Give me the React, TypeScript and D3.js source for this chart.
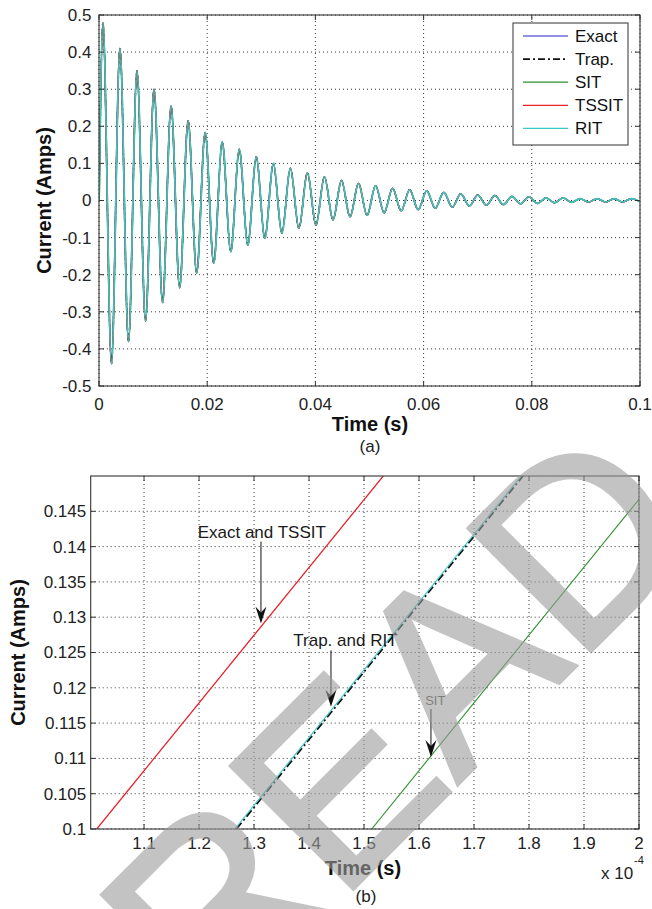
import React from "react";
import * as d3 from "d3";

const FONT = "'Liberation Sans', Arial, Helvetica, sans-serif";

// ---------- (a) overview: damped current, extrema ----------
// time in ms, current in A
const startPoint: [number, number] = [0, 0];
const peakTimesMs = [
  0.7, 3.85, 7.0, 10.15, 13.3, 16.45, 19.6, 22.75, 25.9, 29.05, 32.2, 35.35, 38.5, 41.65, 44.8, 47.95,
  51.1, 54.25, 57.4, 60.55, 63.7, 66.85, 70.0, 73.15, 76.3, 79.45, 82.6, 85.75, 88.9, 92.05, 95.2, 98.35,
];
const peakValues = [
  0.48, 0.41, 0.35, 0.3, 0.255, 0.215, 0.183, 0.158, 0.138, 0.118, 0.1, 0.087, 0.075, 0.064, 0.054, 0.046,
  0.04, 0.033, 0.029, 0.026, 0.022, 0.018, 0.015, 0.0135, 0.011, 0.01, 0.007, 0.007, 0.005, 0.005, 0.005, 0.005,
];
const troughTimesMs = [
  2.28, 5.43, 8.58, 11.73, 14.88, 18.03, 21.18, 24.33, 27.48, 30.63, 33.78, 36.93, 40.08, 43.23, 46.38, 49.53,
  52.68, 55.83, 58.98, 62.13, 65.28, 68.43, 71.58, 74.73, 77.88, 81.03, 84.18, 87.33, 90.48, 93.63, 96.78, 99.93,
];
const troughValues = [
  -0.44, -0.38, -0.325, -0.275, -0.235, -0.195, -0.169, -0.138, -0.12, -0.102, -0.088, -0.075, -0.066, -0.052,
  -0.044, -0.04, -0.033, -0.028, -0.025, -0.021, -0.018, -0.015, -0.013, -0.011, -0.009, -0.008, -0.006, -0.005,
  -0.004, -0.004, -0.004, -0.003,
];

const methods = ["Exact", "Trap.", "SIT", "TSSIT", "RIT"];
const methodColors = ["#6f6fdc", "#111111", "#2f8f2f", "#ee2222", "#3cc6c6"];
const methodDash = ["", "7,3,2,3", "", "", ""];
// lag of each method behind the exact solution (ms), from panel (b)
const methodLagMs = [0, 0.025, 0.05, 0, 0.025];

const xTicksTopMs = [0, 20, 40, 60, 80, 100];
const xTickLabelsTop = ["0", "0.02", "0.04", "0.06", "0.08", "0.1"];
const yTicksTop = [-0.5, -0.4, -0.3, -0.2, -0.1, 0, 0.1, 0.2, 0.3, 0.4, 0.5];
const yTickLabelsTop = ["-0.5", "-0.4", "-0.3", "-0.2", "-0.1", "0", "0.1", "0.2", "0.3", "0.4", "0.5"];

// ---------- (b) zoom: time in 1e-4 s, current in A ----------
const exactZoom: [number, number][] = [[1.014, 0.1], [1.535, 0.15]];
const trapZoom: [number, number][] = [[1.268, 0.1], [1.789, 0.15]];
const sitZoom: [number, number][] = [[1.514, 0.1], [2.0, 0.1467]];
const tssitZoom: [number, number][] = [[1.014, 0.1], [1.535, 0.15]];
const ritZoom: [number, number][] = [[1.265, 0.1], [1.786, 0.15]];
const zoomSeries = [exactZoom, trapZoom, sitZoom, tssitZoom, ritZoom];

const xTicksBottom = [1.1, 1.2, 1.3, 1.4, 1.5, 1.6, 1.7, 1.8, 1.9, 2.0];
const xTickLabelsBottom = ["1.1", "1.2", "1.3", "1.4", "1.5", "1.6", "1.7", "1.8", "1.9", "2"];
const yTicksBottom = [0.1, 0.105, 0.11, 0.115, 0.12, 0.125, 0.13, 0.135, 0.14, 0.145];
const yTickLabelsBottom = ["0.1", "0.105", "0.11", "0.115", "0.12", "0.125", "0.13", "0.135", "0.14", "0.145"];

const annotationLabels = ["Exact and TSSIT", "Trap. and RIT", "SIT"];
// label anchor (x,y), arrow tail y, arrow tip (x,y) in data units
const annotationLabelPos: [number, number][] = [[1.1975, 0.1421], [1.3714, 0.1268], [1.6295, 0.1182]];
const annotationArrowX = [1.3126, 1.4399, 1.6217];
const annotationTailY = [0.1407, 0.1253, 0.117];
const annotationTipY = [0.1291, 0.1173, 0.1102];

const GRID = "#3a3a3a";
const AXIS = "#333";

function Axes(props: {
  x: d3.ScaleLinear<number, number>;
  y: d3.ScaleLinear<number, number>;
  xTicks: number[];
  xLabels: string[];
  yTicks: number[];
  yLabels: string[];
  xLabelY: number;
  yLabelGap: number;
}) {
  const { x, y, xTicks, xLabels, yTicks, yLabels, xLabelY, yLabelGap } = props;
  const [x0, x1] = x.range();
  const [y0, y1] = y.range();
  const tl = 5;
  return (
    <g>
      <rect x={x0} y={y1} width={x1 - x0} height={y0 - y1} fill="none" stroke={AXIS} strokeWidth={1.1} />
      {xTicks.map((t, i) => (
        <g key={"xt" + i}>
          <line x1={x(t)} x2={x(t)} y1={y0} y2={y0 - tl} stroke={AXIS} strokeWidth={1} />
          <line x1={x(t)} x2={x(t)} y1={y1} y2={y1 + tl} stroke={AXIS} strokeWidth={1} />
          <text x={x(t)} y={xLabelY} textAnchor="middle" dy="0.35em" fontSize={17} fontFamily={FONT} fill="#222">
            {xLabels[i]}
          </text>
        </g>
      ))}
      {yTicks.map((t, i) => (
        <g key={"yt" + i}>
          <line x1={x0} x2={x0 + tl} y1={y(t)} y2={y(t)} stroke={AXIS} strokeWidth={1} />
          <line x1={x1} x2={x1 - tl} y1={y(t)} y2={y(t)} stroke={AXIS} strokeWidth={1} />
          <text x={x0 - yLabelGap} y={y(t)} textAnchor="end" dy="0.35em" fontSize={17} fontFamily={FONT} fill="#222">
            {yLabels[i]}
          </text>
        </g>
      ))}
    </g>
  );
}

function Grid(props: { x: d3.ScaleLinear<number, number>; y: d3.ScaleLinear<number, number>; xTicks: number[]; yTicks: number[] }) {
  const { x, y, xTicks, yTicks } = props;
  const [x0, x1] = x.range();
  const [y0, y1] = y.range();
  return (
    <g>
      {xTicks.map((t, i) => (
        <line key={"gx" + i} x1={x(t)} x2={x(t)} y1={y0} y2={y1} stroke={GRID} strokeWidth={1} strokeDasharray="1,3" />
      ))}
      {yTicks.map((t, i) => (
        <line key={"gy" + i} x1={x0} x2={x1} y1={y(t)} y2={y(t)} stroke={GRID} strokeWidth={1} strokeDasharray="1,3" />
      ))}
    </g>
  );
}

export default function App() {
  // ---- top panel ----
  const xT = d3.scaleLinear().domain([0, 100]).range([99, 640]);
  const yT = d3.scaleLinear().domain([-0.5, 0.5]).range([386, 15]);

  const extrema: [number, number][] = [startPoint];
  peakTimesMs.forEach((t, i) => {
    extrema.push([t, peakValues[i]]);
    extrema.push([troughTimesMs[i], troughValues[i]]);
  });

  const topLines = methods.map((m, k) => {
    const gen = d3
      .line<[number, number]>()
      .x((d) => xT(d[0] + methodLagMs[k]))
      .y((d) => yT(d[1]))
      .curve(d3.curveMonotoneX);
    return gen(extrema) || "";
  });
  const topWidths = [1.4, 1.4, 1.5, 1.4, 1.6];

  // ---- bottom panel ----
  const xB = d3.scaleLinear().domain([1.003, 2.0]).range([90.7, 639]);
  const yB = d3.scaleLinear().domain([0.1, 0.15]).range([829, 476]);
  const zoomGen = d3
    .line<[number, number]>()
    .x((d) => xB(d[0]))
    .y((d) => yB(d[1]));
  const bottomWidths = [0.7, 1.8, 1.1, 1.2, 1.1];

  const legendX = 513;
  const legendY = 23;

  const arrowHead = (x: number, y: number) =>
    `M${x},${y} L${x - 5.5},${y - 17} L${x},${y - 11} L${x + 5.5},${y - 17} Z`;

  return (
    <svg
      width={652}
      height={909}
      style={{ position: "absolute", left: 0, top: 0, display: "block", background: "#fff" }}
      fontFamily={FONT}
    >
      <defs>
        <clipPath id="clipTop">
          <rect x={99} y={15} width={541} height={371} />
        </clipPath>
        <clipPath id="clipBottom">
          <rect x={90.7} y={476} width={548.3} height={353} />
        </clipPath>
        <clipPath id="clipPage">
          <rect x={0} y={0} width={652} height={909} />
        </clipPath>
      </defs>
      <rect x={0} y={0} width={652} height={909} fill="#fff" />

      {/* ===== Panel (a) ===== */}
      <Grid x={xT} y={yT} xTicks={xTicksTopMs} yTicks={yTicksTop} />
      <g clipPath="url(#clipTop)">
        {topLines.map((p, k) => (
          <path
            key={"tl" + k}
            d={p}
            fill="none"
            stroke={methodColors[k]}
            strokeWidth={topWidths[k]}
            strokeDasharray={methodDash[k] || undefined}
          />
        ))}
      </g>
      <Axes
        x={xT}
        y={yT}
        xTicks={xTicksTopMs}
        xLabels={xTickLabelsTop}
        yTicks={yTicksTop}
        yLabels={yTickLabelsTop}
        xLabelY={404}
        yLabelGap={7.5}
      />
      <text x={370} y={424} dy="0.35em" textAnchor="middle" fontSize={20} fontWeight="bold" fill="#111">
        Time (s)
      </text>
      <text x={370} y={446} dy="0.35em" textAnchor="middle" fontSize={17} fill="#222">
        (a)
      </text>
      <text
        transform={`translate(44,200.5) rotate(-90)`}
        dy="0.35em"
        textAnchor="middle"
        fontSize={20}
        fontWeight="bold"
        fill="#111"
      >
        Current (Amps)
      </text>

      {/* legend */}
      <rect x={legendX} y={legendY} width={115} height={122} fill="#fff" stroke={AXIS} strokeWidth={1} />
      {methods.map((m, k) => {
        const yy = 36 + k * 23.1;
        return (
          <g key={"lg" + k}>
            <line
              x1={523}
              x2={568}
              y1={yy}
              y2={yy}
              stroke={methodColors[k]}
              strokeWidth={k === 1 ? 1.6 : 1.3}
              strokeDasharray={methodDash[k] || undefined}
            />
            <text x={575} y={yy} dy="0.35em" fontSize={17} fill="#111">
              {m}
            </text>
          </g>
        );
      })}

      {/* ===== Panel (b) ===== */}
      <Grid x={xB} y={yB} xTicks={xTicksBottom} yTicks={yTicksBottom} />
      <g clipPath="url(#clipBottom)">
        {zoomSeries.map((s, k) => (
          <path
            key={"zb" + k}
            d={zoomGen(s) || ""}
            fill="none"
            stroke={methodColors[k]}
            strokeWidth={bottomWidths[k]}
            strokeDasharray={methodDash[k] ? "8,3,2,3" : undefined}
          />
        ))}
      </g>
      <Axes
        x={xB}
        y={yB}
        xTicks={xTicksBottom}
        xLabels={xTickLabelsBottom}
        yTicks={yTicksBottom}
        yLabels={yTickLabelsBottom}
        xLabelY={843.5}
        yLabelGap={4.5}
      />
      {annotationLabels.map((lab, i) => {
        const ax = xB(annotationArrowX[i]);
        const tipY = yB(annotationTipY[i]);
        const tailY = yB(annotationTailY[i]);
        const isSmall = i === 2;
        return (
          <g key={"an" + i}>
            <text
              x={xB(annotationLabelPos[i][0])}
              y={yB(annotationLabelPos[i][1])}
              dy="0.35em"
              textAnchor={isSmall ? "middle" : "start"}
              fontSize={isSmall ? 13 : 17}
              fill={isSmall ? "#555" : "#1a1a1a"}
            >
              {lab}
            </text>
            <line x1={ax} x2={ax} y1={tailY} y2={tipY - 8} stroke="#111" strokeWidth={1} />
            <path d={arrowHead(ax, tipY)} fill="#111" />
          </g>
        );
      })}
      <text x={363} y={868} dy="0.35em" textAnchor="middle" fontSize={20} fontWeight="bold" fill="#111">
        Time (s)
      </text>
      <text x={366} y={896.5} dy="0.35em" textAnchor="middle" fontSize={17} fill="#222">
        (b)
      </text>
      <text x={601} y={873.5} dy="0.35em" fontSize={17} fill="#222">
        x 10
      </text>
      <text x={634} y={860} dy="0.35em" fontSize={11} fill="#222">
        -4
      </text>
      <text
        transform={`translate(18,652.5) rotate(-90)`}
        dy="0.35em"
        textAnchor="middle"
        fontSize={20}
        fontWeight="bold"
        fill="#111"
      >
        Current (Amps)
      </text>

      {/* watermark */}
      <g clipPath="url(#clipPage)">
        <text
          transform="translate(210,1032) rotate(-45)"
          fontSize={252}
          fill="#9c9c9c"
          stroke="#9c9c9c"
          strokeWidth={4}
          strokeLinejoin="miter"
          opacity={0.6}
          fontFamily="'Liberation Sans', Arial, sans-serif"
        >
          READ
        </text>
      </g>
    </svg>
  );
}
